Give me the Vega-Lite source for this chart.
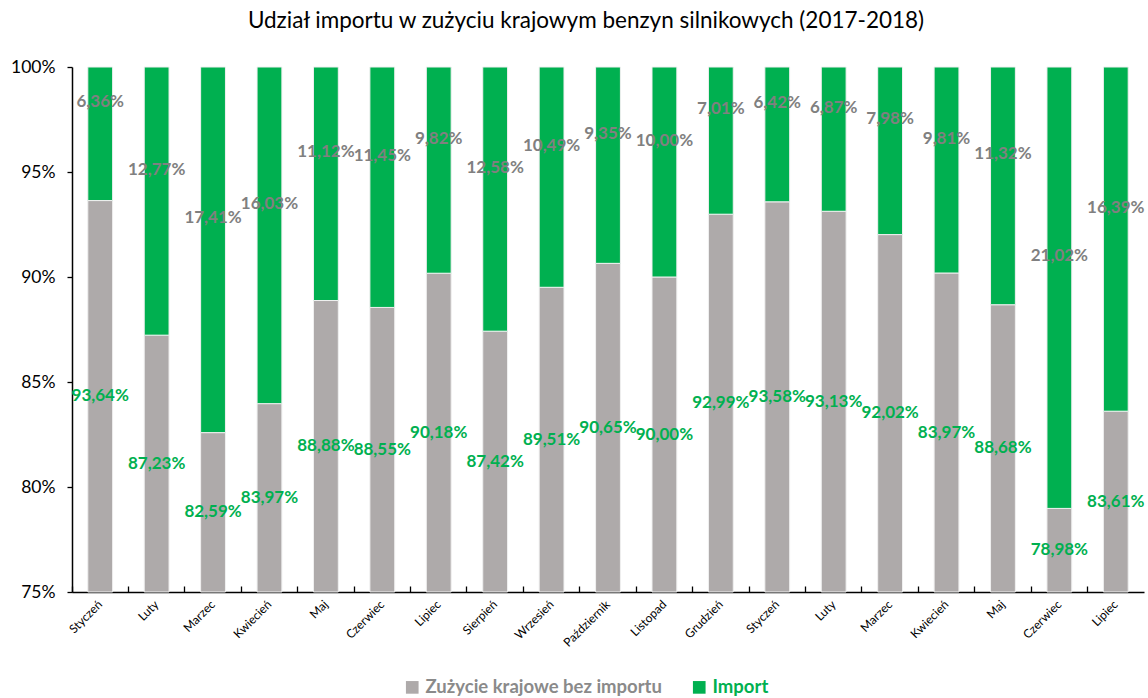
{
  "$schema": "https://vega.github.io/schema/vega-lite/v6.json",
  "width": 1072,
  "height": 525,
  "autosize": {"type": "none"},
  "padding": {"left": 72, "top": 67, "right": 4, "bottom": 106},
  "background": "white",
  "title": {
    "text": "Udział importu w zużyciu krajowym benzyn silnikowych (2017-2018)",
    "font": "Lato",
    "fontSize": 22.5,
    "fontWeight": "normal",
    "color": "#000000",
    "anchor": "middle",
    "dx": -22,
    "offset": 26
  },
  "data": {
    "values": [
      {"okres": "Styczeń 2017", "zuzycie": 93.64, "import": 6.36, "zuzycie_etykieta": "93,64%", "import_etykieta": "6,36%"},
      {"okres": "Luty 2017", "zuzycie": 87.23, "import": 12.77, "zuzycie_etykieta": "87,23%", "import_etykieta": "12,77%"},
      {"okres": "Marzec 2017", "zuzycie": 82.59, "import": 17.41, "zuzycie_etykieta": "82,59%", "import_etykieta": "17,41%"},
      {"okres": "Kwiecień 2017", "zuzycie": 83.97, "import": 16.03, "zuzycie_etykieta": "83,97%", "import_etykieta": "16,03%"},
      {"okres": "Maj 2017", "zuzycie": 88.88, "import": 11.12, "zuzycie_etykieta": "88,88%", "import_etykieta": "11,12%"},
      {"okres": "Czerwiec 2017", "zuzycie": 88.55, "import": 11.45, "zuzycie_etykieta": "88,55%", "import_etykieta": "11,45%"},
      {"okres": "Lipiec 2017", "zuzycie": 90.18, "import": 9.82, "zuzycie_etykieta": "90,18%", "import_etykieta": "9,82%"},
      {"okres": "Sierpień 2017", "zuzycie": 87.42, "import": 12.58, "zuzycie_etykieta": "87,42%", "import_etykieta": "12,58%"},
      {"okres": "Wrzesień 2017", "zuzycie": 89.51, "import": 10.49, "zuzycie_etykieta": "89,51%", "import_etykieta": "10,49%"},
      {"okres": "Październik 2017", "zuzycie": 90.65, "import": 9.35, "zuzycie_etykieta": "90,65%", "import_etykieta": "9,35%"},
      {"okres": "Listopad 2017", "zuzycie": 90.0, "import": 10.0, "zuzycie_etykieta": "90,00%", "import_etykieta": "10,00%"},
      {"okres": "Grudzień 2017", "zuzycie": 92.99, "import": 7.01, "zuzycie_etykieta": "92,99%", "import_etykieta": "7,01%"},
      {"okres": "Styczeń 2018", "zuzycie": 93.58, "import": 6.42, "zuzycie_etykieta": "93,58%", "import_etykieta": "6,42%"},
      {"okres": "Luty 2018", "zuzycie": 93.13, "import": 6.87, "zuzycie_etykieta": "93,13%", "import_etykieta": "6,87%"},
      {"okres": "Marzec 2018", "zuzycie": 92.02, "import": 7.98, "zuzycie_etykieta": "92,02%", "import_etykieta": "7,98%"},
      {"okres": "Kwiecień 2018", "zuzycie": 90.19, "import": 9.81, "zuzycie_etykieta": "83,97%", "import_etykieta": "9,81%"},
      {"okres": "Maj 2018", "zuzycie": 88.68, "import": 11.32, "zuzycie_etykieta": "88,68%", "import_etykieta": "11,32%"},
      {"okres": "Czerwiec 2018", "zuzycie": 78.98, "import": 21.02, "zuzycie_etykieta": "78,98%", "import_etykieta": "21,02%"},
      {"okres": "Lipiec 2018", "zuzycie": 83.61, "import": 16.39, "zuzycie_etykieta": "83,61%", "import_etykieta": "16,39%"}
    ]
  },
  "encoding": {
    "x": {
      "field": "okres",
      "type": "ordinal",
      "sort": null,
      "scale": {"paddingInner": 0, "paddingOuter": 0},
      "axis": {
        "title": null,
        "labelExpr": "split(datum.label, ' ')[0]",
        "labelAngle": -45,
        "labelAlign": "right",
        "labelBaseline": "middle",
        "labelFont": "Lato",
        "labelFontSize": 12,
        "labelColor": "#000000",
        "labelPadding": 16,
        "bandPosition": 0,
        "tickSize": -6,
        "tickColor": "#000000",
        "tickWidth": 1.3,
        "domainColor": "#000000",
        "domainWidth": 1.5,
        "grid": false
      }
    }
  },
  "layer": [
    {
      "mark": {"type": "bar", "width": {"band": 0.44}, "stroke": "#f0f0f0", "strokeWidth": 1},
      "encoding": {
        "y": {
          "field": "zuzycie",
          "type": "quantitative",
          "scale": {"domain": [75, 100], "nice": false, "zero": false},
          "axis": {
            "title": null,
            "values": [75, 80, 85, 90, 95, 100],
            "labelExpr": "datum.value + '%'",
            "labelFont": "Lato",
            "labelFontSize": 17.5,
            "labelColor": "#000000",
            "labelPadding": 12,
            "tickSize": 5,
            "tickColor": "#000000",
            "tickWidth": 1.3,
            "domainColor": "#000000",
            "domainWidth": 1.5,
            "grid": false
          }
        },
        "y2": {"datum": 75},
        "color": {
          "datum": "Zużycie krajowe bez importu",
          "type": "nominal",
          "scale": {"domain": ["Zużycie krajowe bez importu", "Import"], "range": ["#AEAAAA", "#00B050"]},
          "legend": {
            "title": null,
            "orient": "none",
            "legendX": 331,
            "legendY": 611,
            "direction": "horizontal",
            "symbolType": "square",
            "symbolSize": 160,
            "symbolStrokeWidth": 0,
            "labelFont": "Lato",
            "labelFontSize": 18.5,
            "labelFontWeight": "bold",
            "labelLimit": 400,
            "labelOffset": 4,
            "labelColor": {"expr": "datum.label == 'Import' ? '#00B050' : '#8A8A8A'"},
            "columnPadding": 28
          }
        }
      }
    },
    {
      "mark": {"type": "bar", "width": {"band": 0.44}, "stroke": "#f0f0f0", "strokeWidth": 1},
      "encoding": {
        "y": {"field": "zuzycie", "type": "quantitative"},
        "y2": {"datum": 100},
        "color": {"datum": "Import", "type": "nominal"}
      }
    },
    {
      "mark": {"type": "text", "font": "Lato", "fontSize": 17, "fontWeight": "bold", "color": "#00B050", "baseline": "middle"},
      "encoding": {
        "y": {"datum": 87.5},
        "yOffset": {"field": "import", "type": "quantitative", "scale": {"domain": [0, 25], "range": [0, 262.5], "nice": false}},
        "text": {"field": "zuzycie_etykieta"}
      }
    },
    {
      "mark": {"type": "text", "font": "Lato", "fontSize": 17, "fontWeight": "bold", "color": "#808080", "baseline": "middle"},
      "encoding": {
        "y": {"datum": 101.5},
        "yOffset": {"field": "import", "type": "quantitative", "scale": {"domain": [0, 25], "range": [0, 262.5], "nice": false}},
        "text": {"field": "import_etykieta"}
      }
    }
  ],
  "resolve": {"scale": {"yOffset": "independent"}},
  "config": {"view": {"stroke": null}}
}
